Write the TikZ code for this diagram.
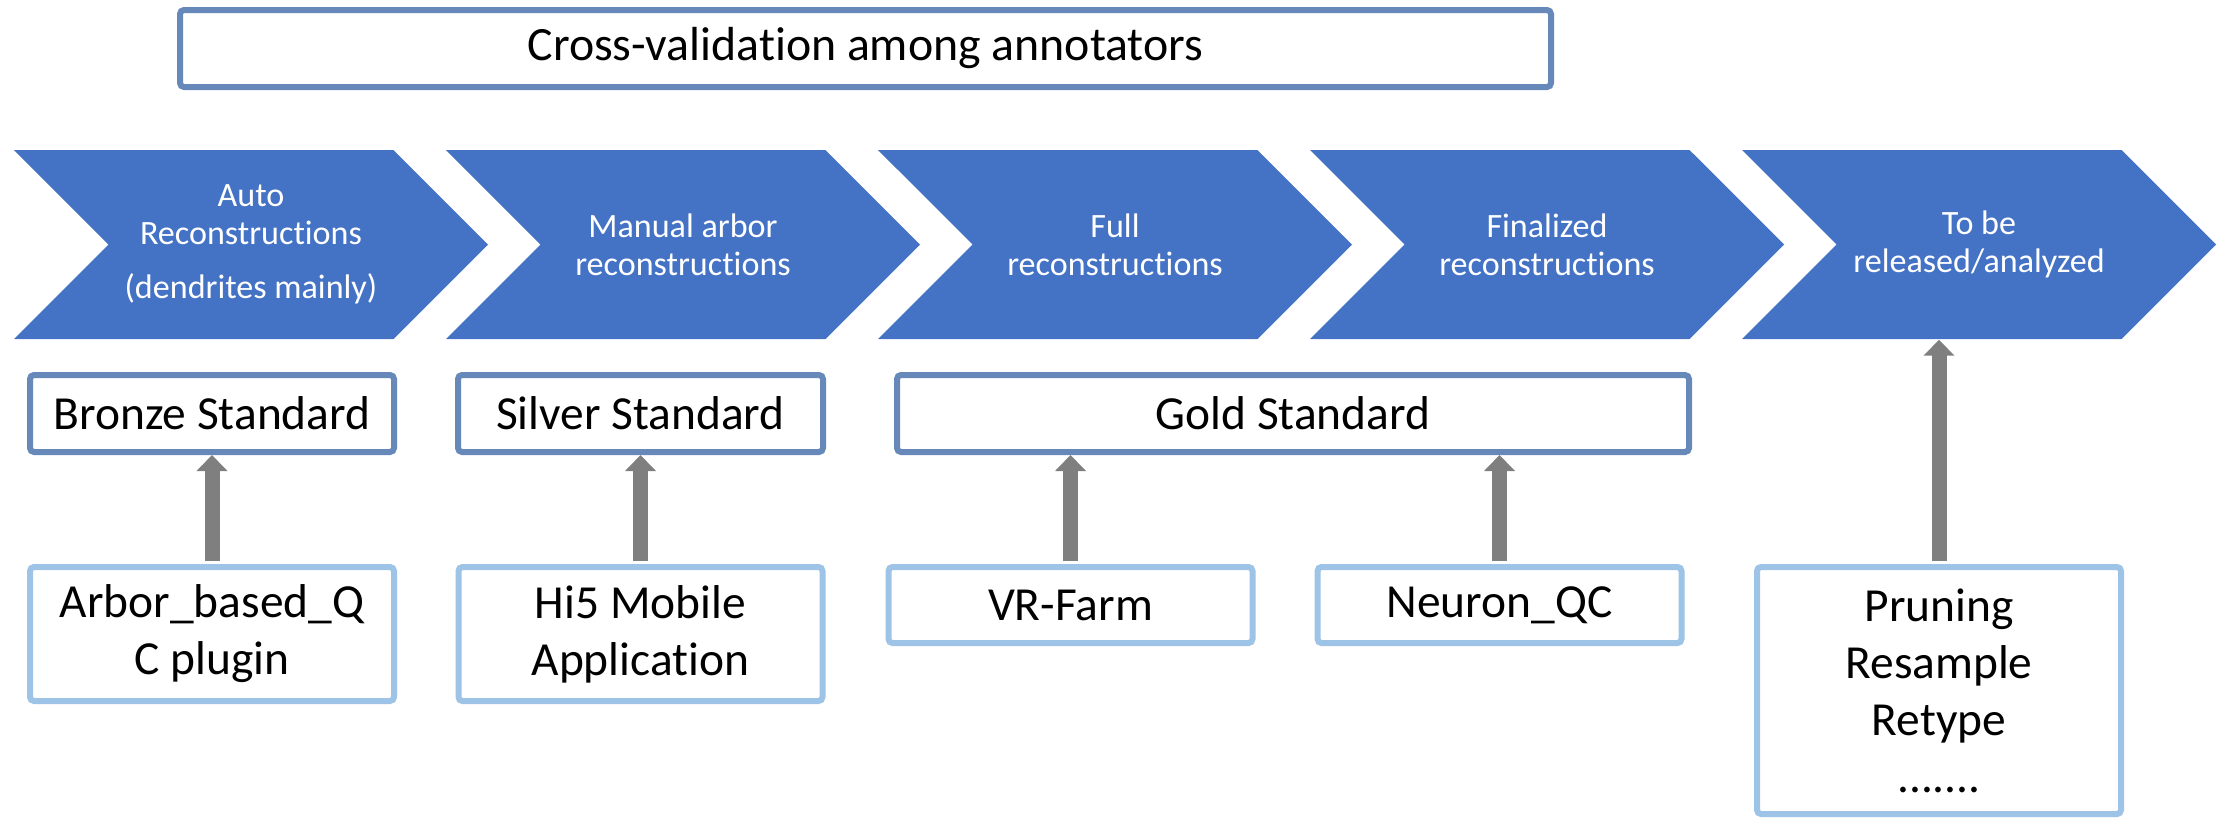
\documentclass[tikz,border=0pt]{standalone}
\usepackage{fontspec}
\setmainfont{Carlito}[Ligatures=NoCommon]
\usetikzlibrary{arrows.meta, shapes.symbols}

\definecolor{chevblue}{HTML}{4472C4}
\definecolor{stdedge}{HTML}{6689BA}
\definecolor{tooledge}{HTML}{9DC3E6}
\definecolor{arrowgray}{HTML}{7F7F7F}

\begin{document}
\begin{tikzpicture}[x=0.1mm, y=-0.1mm,
        chevron/.style={shape=signal, signal from=west, signal to=east, signal pointer angle=90,
            fill=chevblue, minimum width=47.4mm, minimum height=18.9mm, inner sep=0pt,
            text=white, align=center, font=\fontsize{9.7}{10.7}\selectfont},
        stdbox/.style={draw=stdedge, line width=0.6mm, rounded corners=0.4mm, minimum height=7.7mm,
            align=center, font=\fontsize{13.5}{16.2}\selectfont},
        toolbox/.style={draw=tooledge, line width=0.6mm, rounded corners=0.4mm, minimum width=36.4mm,
            inner sep=0.8mm, align=center, font=\fontsize{13.5}{16.2}\selectfont},
        uparrow/.style={draw=arrowgray, line width=1.5mm, -{Triangle[width=3mm,length=1.6mm]}, shorten <=0.3mm}]
        \useasboundingbox (0,0) rectangle (2226,818);

        % Banner on top
        \node[stdbox, minimum width=137.1mm, font=\fontsize{13.6}{16.2}\selectfont] (crossval) at (865.5,48.5) {Cross-validation among annotators};

        % Pipeline stages
        \foreach \i/\txt in {1/{Auto\\Reconstructions\\[4.8pt](dendrites mainly)}, 2/{Manual arbor\\reconstructions},
                3/{Full\\reconstructions}, 4/{Finalized\\reconstructions}, 5/{To be\\released/analyzed}} {
            \node[chevron] (chev\i) at ({432*\i-181},244.5) {\txt};
        }

        % Standards
        \node[stdbox, minimum width=36.4mm] (bronze) at (212,413.5) {Bronze Standard};
        \node[stdbox, minimum width=36.5mm] (silver) at (640.5,413.5) {Silver Standard};
        \node[stdbox, minimum width=79.2mm] (gold) at (1293,413.5) {Gold Standard};

        % Tools
        \node[toolbox, minimum height=13.4mm] (arbor) at (212,634) {Arbor\_based\_Q\\C plugin};
        \node[toolbox, minimum height=13.4mm] (hifive) at (640.5,634) {Hi5 Mobile\\Application};
        \node[toolbox, minimum height=7.6mm] (vrfarm) at (1070.5,605) {VR-Farm};
        \node[toolbox, minimum height=7.6mm] (neuronqc) at (1499.5,605) {Neuron\_QC};
        \node[toolbox, minimum height=24.7mm] (pruning) at (1939,690.5) {Pruning\\Resample\\Retype\\.......};

        % Arrows
        \draw[uparrow] (arbor.north) -- (bronze.south);
        \draw[uparrow] (hifive.north) -- (silver.south);
        \draw[uparrow] (vrfarm.north) -- (vrfarm.north |- gold.south);
        \draw[uparrow] (neuronqc.north) -- (neuronqc.north |- gold.south);
        \draw[uparrow] (pruning.north) -- (pruning.north |- chev5.south);
    \end{tikzpicture}
\end{document}
